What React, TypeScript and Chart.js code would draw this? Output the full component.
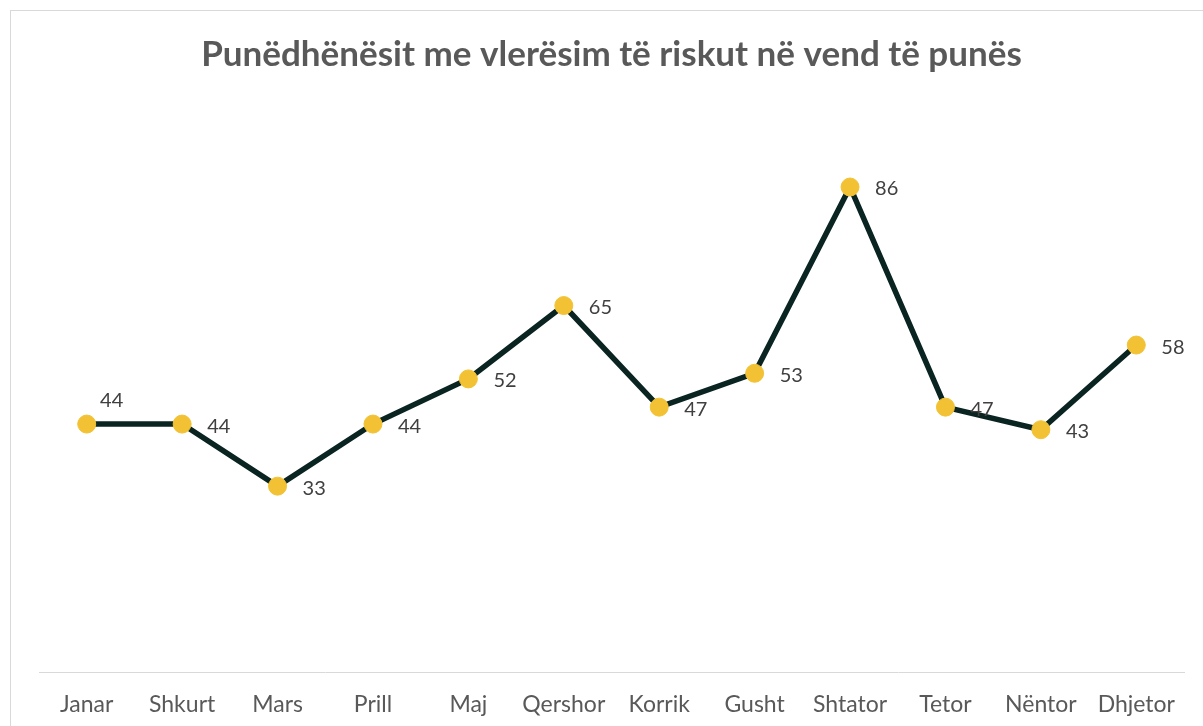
import React, { useEffect, useRef } from "react";
import { Chart, registerables } from "chart.js";

Chart.register(...registerables);

const TITLE = "Punëdhënësit me vlerësim të riskut në vend të punës";
const months = ["Janar", "Shkurt", "Mars", "Prill", "Maj", "Qershor", "Korrik", "Gusht", "Shtator", "Tetor", "Nëntor", "Dhjetor"];
const values = [44, 44, 33, 44, 52, 65, 47, 53, 86, 47, 43, 58];
const labelPlacement = ["above", "right", "right", "right", "right", "right", "right", "right", "right", "right", "right", "right"];

const FONT = "Lato, 'Open Sans', sans-serif";

const dataLabelPlugin = {
  id: "dataLabels",
  afterDatasetsDraw(chart: any) {
    const ctx = chart.ctx;
    const meta = chart.getDatasetMeta(0);
    ctx.save();
    ctx.font = `20px ${FONT}`;
    ctx.fillStyle = "#404040";
    meta.data.forEach((pt: any, i: number) => {
      const v = values[i];
      if (labelPlacement[i] === "above") {
        ctx.textAlign = "center";
        ctx.textBaseline = "middle";
        ctx.fillText(String(v), pt.x + 25, pt.y - 24);
      } else {
        ctx.textAlign = "left";
        ctx.textBaseline = "middle";
        ctx.fillText(String(v), pt.x + 25, pt.y + 2);
      }
    });
    ctx.restore();
  },
};

export default function App() {
  const ref = useRef<HTMLCanvasElement>(null);

  useEffect(() => {
    if (!ref.current) return;
    const chart = new Chart(ref.current, {
      type: "line",
      data: {
        labels: months,
        datasets: [
          {
            data: values,
            borderColor: "#0a2422",
            borderWidth: 5.5,
            pointRadius: 9,
            pointHoverRadius: 9,
            pointBackgroundColor: "#f2c234",
            pointBorderColor: "#f2c234",
            pointBorderWidth: 1,
            tension: 0,
            fill: false,
          },
        ],
      },
      options: {
        responsive: false,
        animation: false,
        layout: { padding: { left: 28, right: 27, top: 0, bottom: 5 } },
        plugins: {
          legend: { display: false },
          tooltip: { enabled: false },
          title: {
            display: true,
            text: TITLE,
            color: "#595959",
            font: { family: FONT, size: 35, weight: "bold" },
            padding: { top: 23, bottom: 32 },
          },
        },
        scales: {
          x: {
            type: "category",
            offset: true,
            grid: { display: false, drawTicks: false },
            border: { display: true, color: "#d9d9d9", width: 1 },
            ticks: {
              color: "#595959",
              font: { family: FONT, size: 23 },
              padding: 18,
              autoSkip: false,
              maxRotation: 0,
            },
          },
          y: {
            display: false,
            min: 0,
            max: 100,
          },
        },
      },
      plugins: [dataLabelPlugin],
    });
    return () => chart.destroy();
  }, []);

  return (
    <div style={{ position: "fixed", left: 0, top: 0, width: 1203, height: 726, overflow: "hidden", background: "#fff" }}>
      <div style={{ position: "absolute", left: 10, top: 10, width: 1200, height: 730, border: "1px solid #d9d9d9", background: "#fff" }}>
        <canvas ref={ref} width={1200} height={730} style={{ display: "block", width: 1200, height: 730 }} />
      </div>
    </div>
  );
}
